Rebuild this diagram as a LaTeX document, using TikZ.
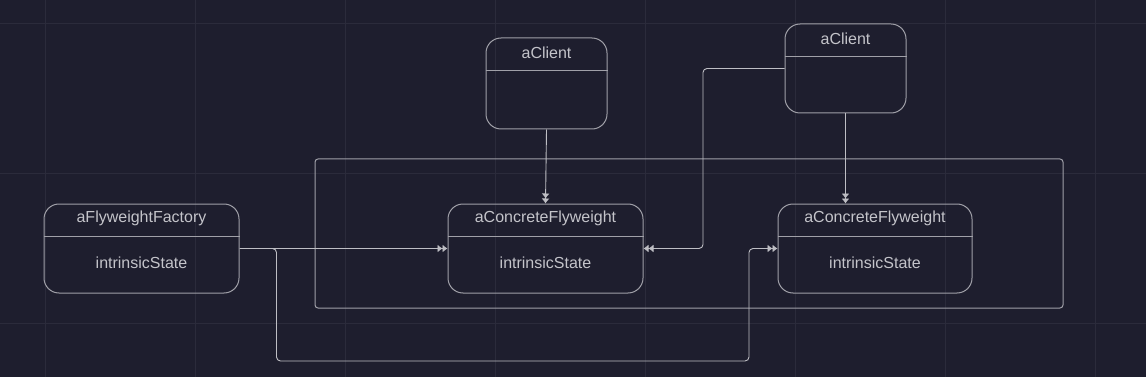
\documentclass[tikz,border=0pt]{standalone}
\usepackage{fontspec}
\setmainfont{Liberation Sans}
\usepackage{xcolor}
\usetikzlibrary{arrows.meta, positioning, calc, backgrounds}

\definecolor{canvas}{HTML}{1E1E2E}
\definecolor{gridline}{HTML}{2B2B3B}
\definecolor{boxline}{HTML}{A0A0A8}
\definecolor{wire}{HTML}{BEBEC4}
\definecolor{label}{HTML}{C4C4CA}

\begin{document}
\begin{tikzpicture}[
    x=1pt, y=-1pt,
    umlbox/.style={rectangle, draw=boxline, line width=1pt, rounded corners=15pt,
                   minimum width=195pt, minimum height=89pt, inner sep=0pt},
    clientbox/.style={umlbox, minimum width=121pt},
    txt/.style={text=label, font=\fontsize{16}{18}\selectfont, inner sep=0pt},
    divider/.style={draw=boxline, line width=1pt},
    frame/.style={draw=boxline, line width=1pt, rounded corners=3pt},
    link/.style={-{Latex[length=5pt,width=8pt]Latex[length=5pt,width=8pt]},
                 draw=wire, line width=0.9pt, rounded corners=4pt}
]
% canvas and grid
\fill[canvas] (0,0) rectangle (1146,377);
\useasboundingbox (0,0) rectangle (1146,377);
\foreach \gx in {45,195,...,1095} \draw[gridline, line width=0.8pt] (\gx,0) -- (\gx,377);
\foreach \gy in {23,173,323} \draw[gridline, line width=0.8pt] (0,\gy) -- (1146,\gy);

% grouping frame
\draw[frame] (315,159) rectangle (1063,308);

% boxes
\node[umlbox] (factory) at (141.5,248.5) {};
\node[umlbox] (cf1) at (545.5,248.5) {};
\node[umlbox, minimum width=194pt] (cf2) at (875,248.5) {};
\node[clientbox, minimum height=91pt] (client1) at (546.5,83.5) {};
\node[clientbox] (client2) at (845.5,68.5) {};

% dividers
\foreach \b in {factory, cf1, cf2, client1, client2}
    \draw[divider] ($(\b.north west)+(0,33)$) -- ($(\b.north east)+(0,33)$);

% texts
\node[txt] (factoryname) at ($(factory.north)+(0,15)$) {aFlyweightFactory};
\node[txt] (factorystate) at ($(factory.north)+(0,59)$) {intrinsicState};
\node[txt] (cf1name) at ($(cf1.north)+(0,15)$) {aConcreteFlyweight};
\node[txt] (cf1state) at ($(cf1.north)+(0,59)$) {intrinsicState};
\node[txt] (cf2name) at ($(cf2.north)+(0,15)$) {aConcreteFlyweight};
\node[txt] (cf2state) at ($(cf2.north)+(0,59)$) {intrinsicState};
\node[txt] (client1name) at ($(client1.north)+(0,15)$) {aClient};
\node[txt] (client2name) at ($(client2.north)+(0,15)$) {aClient};

% connectors
\coordinate (jog) at (703,248.5);
\coordinate (bottom) at (749,361);
\draw[link] (client1.south) -- (cf1.north);
\draw[link] (client2.south) -- (client2.south |- cf2.north);
\draw[link] (client2.west) -| (jog) -- (cf1.east);
\draw[link] (factory.east) -- (cf1.west);
\draw[link] (factory.east) -- ++(37,0) |- (bottom) |- (cf2.west);
\end{tikzpicture}
\end{document}
